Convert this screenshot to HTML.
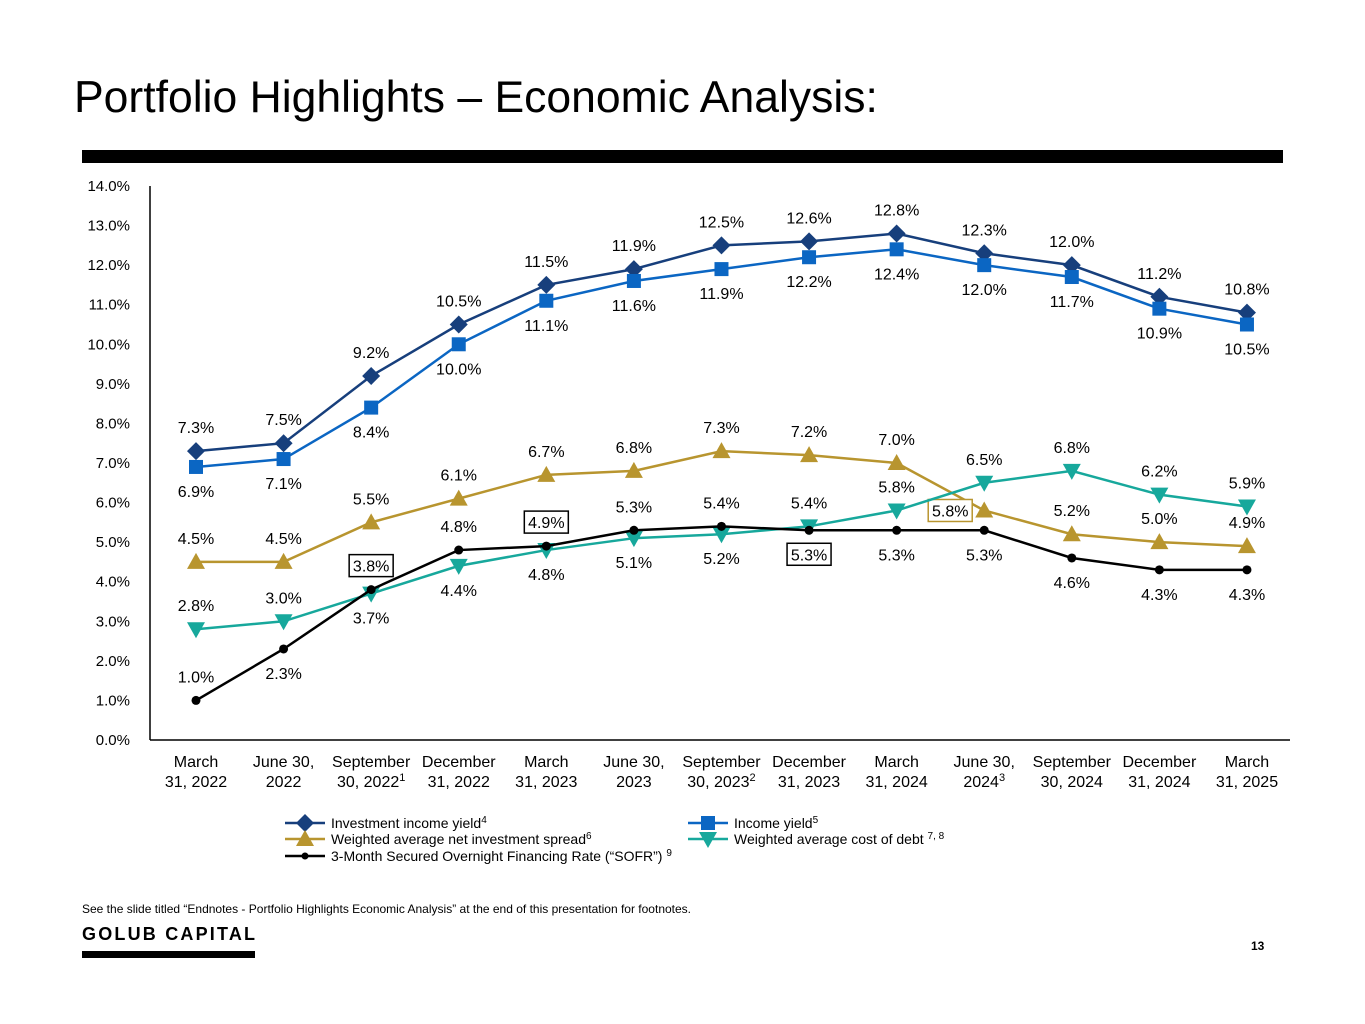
<!DOCTYPE html>
<html><head><meta charset="utf-8">
<style>
body{margin:0;width:1365px;height:1024px;background:#fff;font-family:"Liberation Sans",sans-serif;overflow:hidden;position:relative}
.abs{position:absolute}
</style></head>
<body>
<div class="abs" style="left:74px;top:73px;font-size:44.5px;color:#000;letter-spacing:0px">Portfolio Highlights – Economic Analysis:</div>
<div class="abs" style="left:82px;top:150px;width:1201px;height:13px;background:#000"></div>
<svg class="abs" style="left:0;top:0" width="1365" height="1024" id="chart"></svg>
<div class="abs" style="left:82px;top:902px;font-size:12px;color:#000">See the slide titled “Endnotes - Portfolio Highlights Economic Analysis” at the end of this presentation for footnotes.</div>
<div class="abs" style="left:82px;top:924px;font-size:18px;font-weight:bold;letter-spacing:2.2px;color:#000">GOLUB CAPITAL</div>
<div class="abs" style="left:82px;top:951px;width:173px;height:7px;background:#000"></div>
<div class="abs" style="left:1251px;top:939px;font-size:12px;font-weight:bold">13</div>
<script>
const categories=[["March","31, 2022"],["June 30,","2022"],["September","30, 2022","1"],["December","31, 2022"],["March","31, 2023"],["June 30,","2023"],["September","30, 2023","2"],["December","31, 2023"],["March","31, 2024"],["June 30,","2024","3"],["September","30, 2024"],["December","31, 2024"],["March","31, 2025"]];
const investmentIncomeYield=[7.3,7.5,9.2,10.5,11.5,11.9,12.5,12.6,12.8,12.3,12.0,11.2,10.8];
const incomeYield=[6.9,7.1,8.4,10.0,11.1,11.6,11.9,12.2,12.4,12.0,11.7,10.9,10.5];
const netSpread=[4.5,4.5,5.5,6.1,6.7,6.8,7.3,7.2,7.0,5.8,5.2,5.0,4.9];
const costOfDebt=[2.8,3.0,3.7,4.4,4.8,5.1,5.2,5.4,5.8,6.5,6.8,6.2,5.9];
const sofr=[1.0,2.3,3.8,4.8,4.9,5.3,5.4,5.3,5.3,5.3,4.6,4.3,4.3];
const yTicks=[0,1,2,3,4,5,6,7,8,9,10,11,12,13,14];
// label placement: 1 above, -1 below, 2 boxed above, -2 boxed below, 3 boxed left
const lblInv=[1,1,1,1,1,1,1,1,1,1,1,1,1];
const lblInc=[-1,-1,-1,-1,-1,-1,-1,-1,-1,-1,-1,-1,-1];
const lblSpr=[1,1,1,1,1,1,1,1,1,3,1,1,1];
const lblCod=[1,1,-1,-1,-1,-1,-1,1,1,1,1,1,1];
const lblSofr=[1,-1,2,1,2,1,1,-2,-1,-1,-1,-1,-1];

const svg=document.getElementById('chart');
const NS='http://www.w3.org/2000/svg';
const X0=196,DX=87.58,Y0=740,Y1=186,YMAX=14;
const x=i=>X0+i*DX;
const y=v=>Y0-(v/YMAX)*(Y0-Y1);
function el(t,a,p){const e=document.createElementNS(NS,t);for(const k in a)e.setAttribute(k,a[k]);(p||svg).appendChild(e);return e;}
function txt(s,xx,yy,a,p){const e=el('text',Object.assign({x:xx,y:yy,'font-size':16,'font-family':'Liberation Sans, sans-serif','text-anchor':'middle',fill:'#000'},a||{}),p);e.textContent=s;return e;}

const axY=el('line',{x1:150,y1:186,x2:150,y2:740,stroke:'#000','stroke-width':1.5});


const axX=el('line',{x1:150,y1:740,x2:1290,y2:740,stroke:'#000','stroke-width':1.5});


yTicks.forEach(t=>{const e=txt(t.toFixed(1)+'%',130,y(t)+5,{'text-anchor':'end','font-size':15});

});
categories.forEach((c,i)=>{
  const e=txt(c[0],x(i),767);
  
  
  const e2=txt('',x(i),787);
  
  
  e2.textContent=c[1];
  if(c[2]){const s=el('tspan',{'font-size':11,dy:-6},e2);s.textContent=c[2];}
});

function marker(kind,cx,cy,color,g){
  if(kind==='diamond')return el('polygon',{points:`${cx},${cy-9} ${cx+9},${cy} ${cx},${cy+9} ${cx-9},${cy}`,fill:color},g);
  if(kind==='square')return el('rect',{x:cx-7,y:cy-7,width:14,height:14,fill:color},g);
  if(kind==='up')return el('polygon',{points:`${cx},${cy-9} ${cx+9},${cy+7} ${cx-9},${cy+7}`,fill:color},g);
  if(kind==='down')return el('polygon',{points:`${cx-9},${cy-7} ${cx+9},${cy-7} ${cx},${cy+9}`,fill:color},g);
  return el('circle',{cx,cy,r:4.5,fill:color},g);
}
function series(name,data,color,kind,lbl,boxColor){
  const g=el('g',{});
  
  
  const pl=el('polyline',{points:data.map((v,i)=>x(i)+','+y(v)).join(' '),fill:'none',stroke:color,'stroke-width':2.5},g);
  
  
  data.forEach((v,i)=>{
    const m=marker(kind,x(i),y(v),color,g);
    
    
    const L=lbl[i];let lx=x(i),ly=y(v);
    if(L===1||L===2)ly-=18;else if(L===-1||L===-2)ly+=30;else if(L===3){lx-=34;ly+=6;}
    const s=v.toFixed(1)+'%';
    if(Math.abs(L)===2||L===3){
      const b=el('rect',{x:lx-22,y:ly-17,width:44,height:22,fill:'#fff',stroke:L===3?boxColor:'#000','stroke-width':1.5},g);
      
      
    }
    const t=txt(s,lx,ly,{},g);
    
    
  });
}
series('investment-income-yield',investmentIncomeYield,'#173f7c','diamond',lblInv);
series('income-yield',incomeYield,'#0b66c3','square',lblInc);
series('net-investment-spread',netSpread,'#b8952f','up',lblSpr,'#b8952f');
series('cost-of-debt',costOfDebt,'#17a89c','down',lblCod);
series('sofr',sofr,'#000','circle',lblSofr);

const legend=[['Investment income yield','4','#173f7c','diamond',285,823],['Income yield','5','#0b66c3','square',688,823],['Weighted average net investment spread','6','#b8952f','up',285,839],['Weighted average cost of debt ','7, 8','#17a89c','down',688,839],['3-Month Secured Overnight Financing Rate (“SOFR”) ','9','#000','circle',285,856]];
legend.forEach(l=>{
  const g=el('g',{});
  
  
  el('line',{x1:l[4],y1:l[5],x2:l[4]+40,y2:l[5],stroke:l[2],'stroke-width':2.5},g);
  const m=marker(l[3],l[4]+20,l[5],l[2],g);
  if(l[3]==='circle')m.setAttribute('r',3.5);
  const t=txt(l[0],l[4]+46,l[5]+5,{'text-anchor':'start','font-size':14},g);
  const s=el('tspan',{'font-size':10,dy:-5},t);s.textContent=l[1];
});
</script>
</body></html>
